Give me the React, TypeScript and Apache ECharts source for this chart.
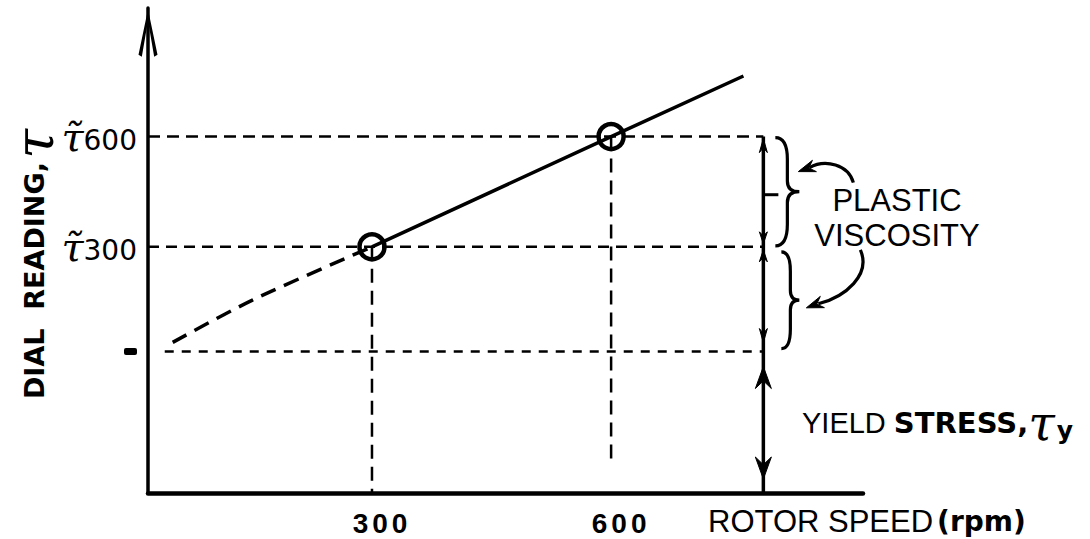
import React, { useEffect, useRef } from "react";
import * as echarts from "echarts";

// ---- data ----
const markedRpm = [300, 600];
const markedReading = [67, 97];
const yieldStress = 38.5;
const lineEndRpm = 766;
const lineEndReading = 113.5;
const extrapRpm = [50, 150, 300];
const extrapReading = [41, 52.5, 67];
const annotationRpm = 791;
const yieldGuideStartRpm = 40;
const guide600BottomReading = 8.5;
const xLabelValues = [300, 600];
const xRange = [19, 916];
const yRange = [0, 132];

const FONT = "'Liberation Sans', Arial, sans-serif";
const FONT_B = "'DejaVu Sans', 'Liberation Sans', sans-serif";
const SERIF = "'DejaVu Serif', 'Liberation Serif', serif";

function arrowHead(tx: number, ty: number, dx: number, dy: number, len: number, half: number) {
  const m = Math.hypot(dx, dy);
  const ux = dx / m, uy = dy / m;
  const bx = tx - ux * len, by = ty - uy * len;
  const nx = -uy, ny = ux;
  const kx = tx - ux * len * 0.65, ky = ty - uy * len * 0.65;
  return {
    type: "polygon",
    shape: { points: [[tx, ty], [bx + nx * half, by + ny * half], [kx, ky], [bx - nx * half, by - ny * half]] },
    style: { fill: "#000", stroke: "#000", lineWidth: 1 },
  };
}

function bracePath(x0: number, y1: number, y2: number, d: number) {
  const h = y2 - y1;
  const ym = (y1 + y2) / 2;
  const s = x0 + d / 2;
  return `M${x0},${y1} Q${s},${y1} ${s},${y1 + h * 0.2} L${s},${ym - h * 0.1} Q${s},${ym} ${x0 + d},${ym} Q${s},${ym} ${s},${ym + h * 0.1} L${s},${y2 - h * 0.2} Q${s},${y2} ${x0},${y2}`;
}

export default function App() {
  const ref = useRef<HTMLDivElement>(null);
  useEffect(() => {
    if (!ref.current) return;
    const chart = echarts.init(ref.current, undefined, { renderer: "svg" });
    const tickNames: Record<string, string> = {};
    markedReading.forEach((r, i) => (tickNames[String(r)] = String(markedRpm[i])));

    const dashed = (data: number[][], dash: number[], width = 2.5) => ({
      type: "line",
      data,
      symbol: "none",
      silent: true,
      clip: false,
      lineStyle: { color: "#000", width, type: dash },
      z: 2,
    });

    const option: any = {
      animation: false,
      backgroundColor: "#fff",
      grid: { left: 148, right: 227, top: 8, bottom: 46 },
      xAxis: {
        type: "value",
        min: xRange[0],
        max: xRange[1],
        splitLine: { show: false },
        axisTick: { show: false },
        axisLine: { show: true, onZero: false, lineStyle: { color: "#000", width: 4.5 } },
        axisLabel: {
          customValues: xLabelValues,
          formatter: (v: number) => String(v).split("").map((c) => `{d|${c}}`).join(""),
          margin: 16,
          padding: [0, 0, 0, 16],
          rich: {
            d: { fontFamily: FONT, fontWeight: "bold", fontSize: 28, color: "#000", padding: [0, 2, 0, 2] },
          },
        },
      },
      yAxis: {
        type: "value",
        min: yRange[0],
        max: yRange[1],
        splitLine: { show: false },
        axisTick: { show: false },
        axisLine: {
          show: true,
          onZero: false,
          symbol: ["none", "path://M10,0 L20,48 L16.5,50 L10,12 L3.5,50 L0,48 Z"],
          symbolSize: [19, 50],
          symbolOffset: [0, -25],
          lineStyle: { color: "#000", width: 3.5 },
        },
        axisLabel: {
          customValues: [yieldStress, ...markedReading],
          margin: 11,
          formatter: (v: number) => {
            const n = tickNames[String(v)];
            return n ? `{t|τ̃}{n|${n}}` : "{d| }";
          },
          rich: {
            t: { fontFamily: SERIF, fontStyle: "italic", fontSize: 40, color: "#000" },
            n: { fontFamily: FONT_B, fontSize: 28, color: "#000", padding: [8, 0, 0, 0] },
            d: { width: 13, height: 7, backgroundColor: "#000", borderRadius: 2, fontSize: 4 },
          },
        },
      },
      graphic: [
        {
          type: "text",
          x: 34,
          y: 264,
          rotation: Math.PI / 2,
          style: {
            text: "{a|DIAL  READING,} {t|τ}",
            align: "center",
            verticalAlign: "middle",
            rich: {
              a: { fontFamily: FONT_B, fontWeight: "bold", fontSize: 27, fill: "#000" },
              t: { fontFamily: SERIF, fontStyle: "italic", fontSize: 54, fill: "#000" },
            },
          },
        },
        {
          type: "text",
          x: 897,
          y: 218,
          style: {
            text: "PLASTIC\nVISCOSITY",
            align: "center",
            verticalAlign: "middle",
            lineHeight: 35,
            fontFamily: FONT,
            fontSize: 31,
            fill: "#000",
          },
        },
        {
          type: "text",
          x: 802,
          y: 423,
          style: {
            text: "{a|YIELD }{b|STRESS,}{t|τ}{y|y}",
            verticalAlign: "middle",
            rich: {
              a: { fontFamily: FONT, fontSize: 29, fill: "#000" },
              b: { fontFamily: FONT_B, fontWeight: "bold", fontSize: 29, fill: "#000" },
              t: { fontFamily: SERIF, fontStyle: "italic", fontSize: 48, fill: "#000" },
              y: { fontFamily: FONT_B, fontWeight: "bold", fontSize: 25, fill: "#000", padding: [14, 0, 0, 2] },
            },
          },
        },
        {
          type: "text",
          x: 708,
          y: 521,
          style: {
            text: "{a|ROTOR SPEED}{b|(rpm)}",
            verticalAlign: "middle",
            rich: {
              a: { fontFamily: FONT, fontSize: 31, fill: "#000" },
              b: { fontFamily: FONT_B, fontWeight: "bold", fontSize: 28, fill: "#000", padding: [0, 0, 0, 4] },
            },
          },
        },
      ],
      series: [
        {
          type: "line",
          data: [
            [markedRpm[0], markedReading[0]],
            [markedRpm[1], markedReading[1]],
            [lineEndRpm, lineEndReading],
          ],
          symbol: "none",
          silent: true,
          clip: false,
          lineStyle: { color: "#000", width: 3.5 },
          z: 3,
        },
        {
          type: "line",
          data: extrapRpm.map((r, i) => [r, extrapReading[i]]),
          symbol: "none",
          smooth: 0.3,
          silent: true,
          clip: false,
          lineStyle: { color: "#000", width: 3.5, type: [16, 9] },
          z: 3,
        },
        dashed([[xRange[0], markedReading[1]], [annotationRpm, markedReading[1]]], [12, 7]),
        dashed([[xRange[0], markedReading[0]], [annotationRpm, markedReading[0]]], [11, 7]),
        dashed([[yieldGuideStartRpm, yieldStress], [annotationRpm, yieldStress]], [9, 8]),
        dashed([[markedRpm[0], markedReading[0]], [markedRpm[0], yRange[0]]], [14, 8]),
        dashed([[markedRpm[1], markedReading[1]], [markedRpm[1], guide600BottomReading]], [14, 8]),
        {
          type: "scatter",
          data: markedRpm.map((r, i) => [r, markedReading[i]]),
          symbol: "circle",
          symbolSize: 25,
          silent: true,
          itemStyle: { color: "rgba(255,255,255,0)", borderColor: "#000", borderWidth: 4.5, opacity: 1 },
          z: 5,
        },
        {
          type: "custom",
          silent: true,
          clip: false,
          data: [[annotationRpm, yieldStress]],
          renderItem: (_params: any, api: any) => {
            const [vx, yTop] = api.coord([annotationRpm, markedReading[1]]);
            const yMid = api.coord([annotationRpm, markedReading[0]])[1];
            const yYield = api.coord([annotationRpm, yieldStress])[1];
            const yBase = api.coord([annotationRpm, yRange[0]])[1];
            const yTick = (yTop + yMid) / 2 + 3;
            const line = (x1: number, y1: number, x2: number, y2: number, w = 3.5) => ({
              type: "line",
              shape: { x1, y1, x2, y2 },
              style: { stroke: "#000", lineWidth: w },
            });
            const path = (d: string, w = 3.2) => ({
              type: "path",
              shape: { pathData: d },
              style: { stroke: "#000", lineWidth: w, fill: null },
            });
            return {
              type: "group",
              children: [
                line(vx, yTop, vx, yBase, 3.5),
                line(vx, yTick, vx + 15, yTick, 3),
                arrowHead(vx, yTop + 2, 0, -1, 14, 4),
                arrowHead(vx, yMid - 3, 0, 1, 12, 4),
                arrowHead(vx, yMid + 3, 0, -1, 12, 4),
                arrowHead(vx, yYield - 9, 0, 1, 14, 4),
                arrowHead(vx, yYield + 15, 0, -1, 22, 8),
                arrowHead(vx, yBase - 14, 0, 1, 22, 8),
                path(bracePath(vx + 12, yTop + 1, yMid - 1, 24)),
                path(bracePath(vx + 18, yMid + 5, yYield - 3, 18)),
                path(`M${vx + 90},${yTop + 46} C${vx + 85},${yTop + 28} ${vx + 62},${yTop + 22} ${vx + 46},${yTop + 31}`),
                arrowHead(vx + 35, yTop + 35, -10, 3.5, 17, 6),
                path(`M${vx + 97},${yMid + 3} C${vx + 108},${yMid + 28} ${vx + 82},${yMid + 50} ${vx + 55},${yMid + 57}`),
                arrowHead(vx + 43, yMid + 61, -11, 4, 17, 6),
              ],
            };
          },
          z: 4,
        },
      ],
    };
    chart.setOption(option);
    return () => chart.dispose();
  }, []);
  return (
    <div
      ref={ref}
      style={{ position: "absolute", left: 0, top: 0, width: 1090, height: 539 }}
    />
  );
}
